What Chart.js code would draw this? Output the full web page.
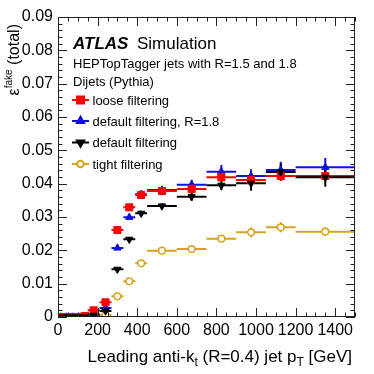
<!DOCTYPE html>
<html><head><meta charset="utf-8">
<script src="https://cdn.jsdelivr.net/npm/chart.js@4/dist/chart.umd.min.js"></script>
<style>html,body{margin:0;padding:0;background:#fff}</style>
</head><body>
<canvas id="c" width="374" height="374"></canvas>
<script>
// ---- data ----
const binCenters = [15, 45, 75, 105, 135, 180, 240, 300, 360, 420, 525, 675, 825, 975, 1125, 1350];
const binLow     = [0, 30, 60, 90, 120, 150, 210, 270, 330, 390, 450, 600, 750, 900, 1050, 1200];
const binHigh    = [30, 60, 90, 120, 150, 210, 270, 330, 390, 450, 600, 750, 900, 1050, 1200, 1500];

const looseVals  = [0, 0, 0, 0, 0.0003, 0.0020, 0.0044, 0.0261, 0.0329, 0.0366, 0.0378, 0.0384, 0.0419, 0.0411, 0.0423, 0.0423];
const looseErr   = [0.0001, 0.0001, 0.0001, 0.0001, 0.0002, 0.0005, 0.0008, 0.0006, 0.0006, 0.0007, 0.0008, 0.0010, 0.0012, 0.0012, 0.0015, 0.0012];

const def18Vals  = [0, 0, 0, 0, 0.0001, 0.0008, 0.0027, 0.0207, 0.0299, 0.0368, 0.0381, 0.0397, 0.0436, 0.0423, 0.0441, 0.0449];
const def18Err   = [0.0001, 0.0001, 0.0001, 0.0001, 0.0001, 0.0006, 0.0008, 0.0006, 0.0007, 0.0012, 0.0009, 0.0015, 0.0020, 0.0020, 0.0025, 0.0028];

const defVals    = [0, 0, 0, 0, 0, 0.0005, 0.0018, 0.0143, 0.0233, 0.0311, 0.0333, 0.0361, 0.0395, 0.0401, 0.0435, 0.0419];
const defErr     = [0.0001, 0.0001, 0.0001, 0.0001, 0.0001, 0.0004, 0.0007, 0.0005, 0.0006, 0.0008, 0.0008, 0.0012, 0.0015, 0.0022, 0.0025, 0.0028];

const tightVals  = [0, 0, 0, 0, 0, 0.0002, 0.0006, 0.0062, 0.0107, 0.0161, 0.0199, 0.0204, 0.0235, 0.0254, 0.0269, 0.0256];
const tightErr   = [0.0001, 0.0001, 0.0001, 0.0001, 0.0001, 0.0002, 0.0003, 0.0003, 0.0004, 0.0005, 0.0006, 0.0008, 0.0010, 0.0015, 0.0015, 0.0013];

const seriesNames = ['loose filtering', 'default filtering, R=1.8', 'default filtering', 'tight filtering'];
const xTickLabels = [0, 200, 400, 600, 800, 1000, 1200, 1400];
const yTickLabels = [0, 0.01, 0.02, 0.03, 0.04, 0.05, 0.06, 0.07, 0.08, 0.09];

// ---- styles ----
const RED = '#ff0000', BLUE = '#1010e0', BLACK = '#000000', GOLD = '#d9a21e';
const FONT = '"Liberation Sans", Arial, Helvetica, sans-serif';

function mk(vals, err, name, color, style, rot, filled, radius, order) {
  return {
    label: name,
    data: binCenters.map((x, i) => ({x: x, y: vals[i]})),
    errY: err,
    pointStyle: style,
    rotation: rot,
    pointRadius: radius,
    pointBorderWidth: filled ? 1 : 1.5,
    borderColor: color,
    backgroundColor: filled ? color : '#ffffff',
    showLine: false,
    order: order
  };
}

const datasets = [
  mk(looseVals, looseErr, seriesNames[0], RED, 'rect', 0, true, 5, 2),
  mk(def18Vals, def18Err, seriesNames[1], BLUE, 'triangle', 0, true, 4.2, 3),
  mk(defVals, defErr, seriesNames[2], BLACK, 'triangle', 180, true, 4.2, 1),
  mk(tightVals, tightErr, seriesNames[3], GOLD, 'circle', 0, false, 3.3, 4)
];

const errorBars = {
  id: 'errorBars',
  beforeDatasetsDraw(chart) {
    const ctx = chart.ctx, xs = chart.scales.x, ys = chart.scales.y, a = chart.chartArea;
    ctx.save();
    ctx.beginPath(); ctx.rect(a.left, a.top, a.right - a.left, a.bottom - a.top); ctx.clip();
    ctx.lineWidth = 2;
    chart.data.datasets.slice().sort((p, q) => q.order - p.order).forEach(ds => {
      ctx.strokeStyle = ds.borderColor;
      ds.data.forEach((p, i) => {
        const y = ys.getPixelForValue(p.y);
        ctx.beginPath();
        ctx.moveTo(xs.getPixelForValue(binLow[i]), y);
        ctx.lineTo(xs.getPixelForValue(binHigh[i]), y);
        const x = xs.getPixelForValue(p.x);
        ctx.moveTo(x, ys.getPixelForValue(p.y - ds.errY[i]));
        ctx.lineTo(x, ys.getPixelForValue(p.y + ds.errY[i]));
        ctx.stroke();
      });
    });
    ctx.restore();
  }
};

const frameAndText = {
  id: 'frameAndText',
  afterDraw(chart) {
    const ctx = chart.ctx, xs = chart.scales.x, ys = chart.scales.y, a = chart.chartArea;
    ctx.save();
    // frame
    ctx.strokeStyle = '#222'; ctx.lineWidth = 1;
    ctx.strokeRect(Math.round(a.left) + 0.5, Math.round(a.top) + 0.5, Math.round(a.right - a.left) - 1, Math.round(a.bottom - a.top) - 1);
    // x ticks (inside, bottom and top)
    ctx.beginPath();
    for (let v = 0; v <= 1500; v += 50) {
      const x = Math.round(xs.getPixelForValue(v)) + 0.5;
      const L = (v % 200 === 0) ? 9 : 4.5;
      ctx.moveTo(x, a.bottom); ctx.lineTo(x, a.bottom - L);
      ctx.moveTo(x, a.top); ctx.lineTo(x, a.top + L);
    }
    for (let k = 0; k <= 45; k++) {
      const v = k * 0.002;
      const y = Math.round(ys.getPixelForValue(v)) + 0.5;
      const L = (k % 5 === 0) ? 9 : 4.5;
      ctx.moveTo(a.left, y); ctx.lineTo(a.left + L, y);
      ctx.moveTo(a.right, y); ctx.lineTo(a.right - L, y);
    }
    ctx.stroke();

    // texts
    ctx.fillStyle = '#000';
    ctx.textBaseline = 'alphabetic';
    ctx.textAlign = 'left';
    ctx.font = 'italic bold 17px ' + FONT;
    ctx.fillText('ATLAS', 73, 49);
    ctx.font = '17px ' + FONT;
    ctx.fillText('Simulation', 137, 49);
    ctx.font = '13px ' + FONT;
    ctx.fillText('HEPTopTagger jets with R=1.5 and 1.8', 73, 67.5);
    ctx.fillText('Dijets (Pythia)', 73, 85.5);

    // legend
    const ly = [100, 121, 142.5, 164];
    chart.data.datasets.forEach((ds, i) => {
      ctx.strokeStyle = ds.borderColor; ctx.lineWidth = 2;
      ctx.beginPath(); ctx.moveTo(72, ly[i]); ctx.lineTo(89, ly[i]); ctx.stroke();
      ctx.fillStyle = ds.backgroundColor; ctx.strokeStyle = ds.borderColor;
      Chart.helpers.drawPoint(ctx, {pointStyle: ds.pointStyle, rotation: ds.rotation, radius: ds.pointRadius, borderWidth: ds.pointBorderWidth}, 80.5, ly[i]);
      ctx.fillStyle = '#000';
      ctx.font = '13px ' + FONT;
      ctx.fillText(ds.label, 92.5, ly[i] + 4.5);
    });

    // x title with subscripts
    const big = '17px ' + FONT, small = '12px ' + FONT;
    const parts = [['Leading anti-k', big, 0], ['t', small, 4], [' (R=0.4) jet p', big, 0], ['T', small, 4], [' [GeV]', big, 0]];
    let w = 0;
    parts.forEach(p => { ctx.font = p[1]; w += ctx.measureText(p[0]).width; });
    let x = 352 - w;
    const by = 362;
    ctx.fillStyle = '#000';
    parts.forEach(p => { ctx.font = p[1]; ctx.fillText(p[0], x, by + p[2]); x += ctx.measureText(p[0]).width; });

    // y title rotated
    ctx.save();
    ctx.translate(19, 24);
    ctx.rotate(-Math.PI / 2);
    const yparts = [['\u03b5', '16px ' + FONT, 0], ['fake', '10px ' + FONT, -7], [' (total)', '16px ' + FONT, 0]];
    let wy = 0;
    yparts.forEach(p => { ctx.font = p[1]; wy += ctx.measureText(p[0]).width; });
    let xx = -wy;
    yparts.forEach(p => { ctx.font = p[1]; ctx.fillText(p[0], xx, p[2]); xx += ctx.measureText(p[0]).width; });
    ctx.restore();

    ctx.restore();
  }
};

new Chart(document.getElementById('c'), {
  type: 'scatter',
  data: {datasets: datasets},
  options: {
    responsive: false,
    animation: false,
    devicePixelRatio: 1,
    layout: {padding: {top: 17, right: 19, left: 0, bottom: 0}},
    plugins: {legend: {display: false}, tooltip: {enabled: false}, title: {display: false}},
    scales: {
      x: {
        type: 'linear', min: 0, max: 1500,
        afterFit(s) { s.height = 57; },
        afterBuildTicks(s) { s.ticks = xTickLabels.map(v => ({value: v})); },
        grid: {display: false, drawTicks: false},
        border: {display: false},
        ticks: {autoSkip: false, maxRotation: 0, padding: 4, color: '#000', font: {family: FONT, size: 16}, callback: v => String(v)}
      },
      y: {
        type: 'linear', min: 0, max: 0.09,
        afterFit(s) { s.width = 58; },
        afterBuildTicks(s) { s.ticks = yTickLabels.map(v => ({value: v})); },
        grid: {display: false, drawTicks: false},
        border: {display: false},
        ticks: {padding: 5, color: '#000', font: {family: FONT, size: 16}, callback: v => (v === 0 ? '0' : v.toFixed(2))}
      }
    }
  },
  plugins: [errorBars, frameAndText]
});
</script>
</body></html>
